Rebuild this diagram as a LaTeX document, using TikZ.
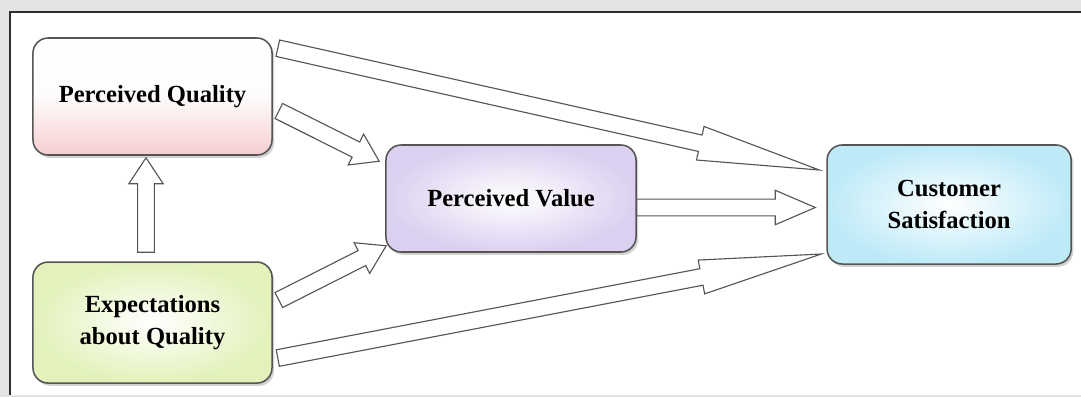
\documentclass[tikz,border=0pt]{standalone}
\usepackage{fontspec}
\setmainfont{Liberation Serif}
\usetikzlibrary{calc,shadows,positioning}

\definecolor{pagegray}{RGB}{228,228,228}
\definecolor{framedark}{RGB}{45,45,45}
\definecolor{boxline}{RGB}{85,85,85}
\definecolor{pqpink}{RGB}{246,206,208}
\definecolor{eqgreen}{RGB}{226,242,186}
\definecolor{pvlilac}{RGB}{220,208,240}
\definecolor{csblue}{RGB}{190,234,248}

% hollow block arrow: from, to, head length
\newcommand{\blockarrow}[3]{%
  \coordinate (hb) at ($(#2)!#3!(#1)$);
  \draw[arrowline] ($(#1)!0.21cm!90:(#2)$) -- ($(hb)!0.21cm!90:(#2)$)
    -- ($(hb)!0.43cm!90:(#2)$) -- (#2) -- ($(hb)!0.43cm!-90:(#2)$)
    -- ($(hb)!0.21cm!-90:(#2)$) -- ($(#1)!0.21cm!-90:(#2)$) -- cycle;}

\begin{document}
\begin{tikzpicture}[x=0.025cm, y=-0.025cm,
        box/.style={rectangle, rounded corners=0.38cm, draw=boxline, line width=1.1pt,
            align=center, font=\bfseries\fontsize{17.5}{23}\selectfont,
            drop shadow={shadow xshift=1.5pt, shadow yshift=-2pt, opacity=0.35}},
        arrowline/.style={draw=boxline, fill=white, line width=0.8pt, line join=miter}]

    % page and frame
    \useasboundingbox (0,0) rectangle (1081,397);
    \fill[pagegray] (0,0) rectangle (1081,397);
    \fill[white] (10,12) rectangle (1081,395);
    \draw[framedark, line width=1.8pt] (10,395) -- (10,12) -- (1090,12);

    \node [box, minimum width=5.975cm, minimum height=2.925cm,
        top color=white, bottom color=pqpink, middle color=white!92!pqpink] (pq) at (152.5,96.5) {Perceived Quality};
    \node [box, below of=pq, node distance=5.65cm, minimum width=5.975cm, minimum height=3.025cm,
        inner color=white, outer color=eqgreen] (eq) {Expectations\\about Quality};
    \node [box, minimum width=6.25cm, minimum height=2.675cm,
        inner color=white, outer color=pvlilac] (pv) at (511,198.5) {Perceived Value};
    \node [box, right of=pv, node distance=10.95cm, yshift=-0.15cm, minimum width=6.1cm,
        minimum height=2.975cm, inner color=white, outer color=csblue] (cs) {Customer\\Satisfaction};

    \blockarrow{$(pq.north east)+(5,11)$}{$(cs.west)+(-7,-34.5)$}{3.05cm}
    \blockarrow{$(pq.east)+(6,14.5)$}{$(pv.north west)+(-6,17)$}{0.65cm}
    \blockarrow{$(eq.north)+(-6.5,-9)$}{$(pq.south)+(-6.5,2)$}{0.65cm}
    \blockarrow{$(eq.east)+(6,-22.5)$}{$(pv.south west)+(1,-7)$}{0.68cm}
    \blockarrow{$(eq.east)+(5,35.5)$}{$(cs.west)+(-5,49.5)$}{3.05cm}
    \blockarrow{$(pv.east)+(0,9)$}{$(cs.west)+(-11,3)$}{1cm}
\end{tikzpicture}
\end{document}
